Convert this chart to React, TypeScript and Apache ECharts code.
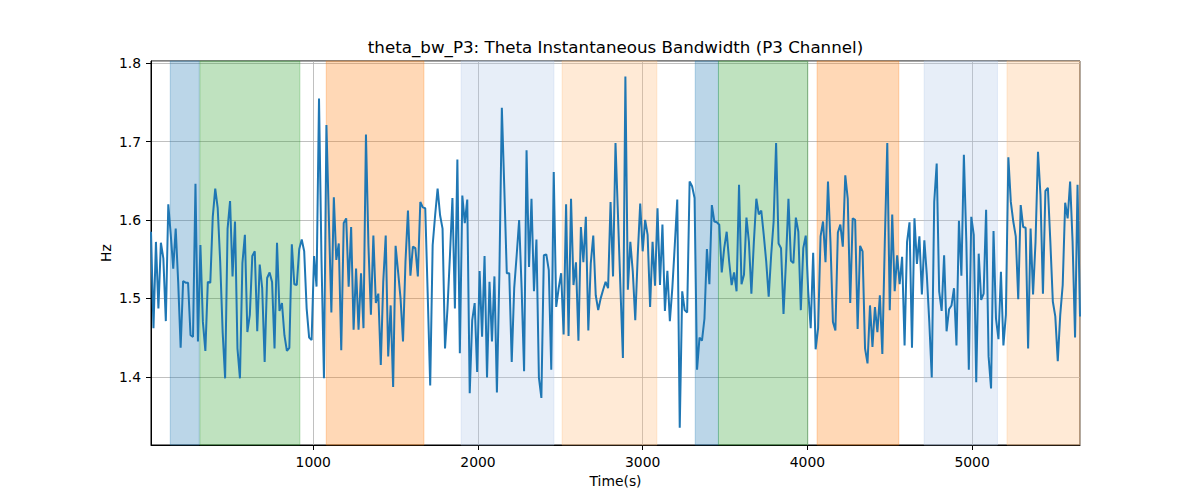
import { useEffect, useRef } from "react";
import * as echarts from "echarts";

// sampling of the signal (seconds)
const startTime = 15;
const sampleStep = 15;

// theta bandwidth (Hz)
const bandwidth = [
    1.585, 1.462, 1.572, 1.487, 1.571, 1.551, 1.471, 1.620, 1.581, 1.538,
    1.589, 1.521, 1.437, 1.522, 1.520, 1.520, 1.453, 1.451, 1.646, 1.445,
    1.568, 1.470, 1.433, 1.521, 1.520, 1.604, 1.640, 1.615, 1.547, 1.457,
    1.398, 1.589, 1.624, 1.528, 1.598, 1.436, 1.398, 1.545, 1.581, 1.457,
    1.479, 1.554, 1.560, 1.458, 1.543, 1.513, 1.419, 1.526, 1.533, 1.521,
    1.436, 1.571, 1.484, 1.494, 1.453, 1.433, 1.437, 1.569, 1.518, 1.517,
    1.563, 1.575, 1.560, 1.487, 1.450, 1.447, 1.554, 1.515, 1.755, 1.550,
    1.398, 1.721, 1.600, 1.482, 1.629, 1.549, 1.570, 1.434, 1.596, 1.602,
    1.515, 1.591, 1.460, 1.538, 1.460, 1.532, 1.462, 1.709, 1.568, 1.479,
    1.580, 1.494, 1.506, 1.415, 1.521, 1.580, 1.426, 1.491,
    1.387, 1.567, 1.534, 1.500, 1.445, 1.547, 1.612, 1.529, 1.566, 1.564,
    1.528, 1.623, 1.616, 1.615, 1.504, 1.389, 1.568, 1.606, 1.640, 1.606,
    1.589, 1.436, 1.487, 1.555, 1.628, 1.487, 1.677, 1.430, 1.631, 1.596,
    1.626, 1.379, 1.472, 1.494, 1.406, 1.535, 1.451, 1.554, 1.399, 1.521,
    1.445, 1.528, 1.380, 1.530, 1.743, 1.640, 1.532, 1.532,
    1.419, 1.513, 1.555, 1.600, 1.513, 1.407, 1.689, 1.540, 1.627, 1.509,
    1.575, 1.399, 1.373, 1.555, 1.556, 1.536, 1.409, 1.661, 1.489, 1.513,
    1.532, 1.454, 1.620, 1.452, 1.627, 1.517, 1.546, 1.446, 1.591, 1.546,
    1.604, 1.459, 1.545, 1.580, 1.504, 1.485, 1.500, 1.511, 1.521, 1.513,
    1.623, 1.528, 1.698, 1.606, 1.513, 1.424, 1.783, 1.511, 1.572,
    1.534, 1.472, 1.555, 1.621, 1.560, 1.600, 1.581, 1.489, 1.572, 1.516,
    1.615, 1.517, 1.594, 1.484, 1.535, 1.471, 1.513, 1.568, 1.626, 1.335,
    1.509, 1.485, 1.482, 1.649, 1.643, 1.628, 1.409, 1.450, 1.446, 1.474,
    1.563, 1.518, 1.619, 1.598, 1.597, 1.594, 1.533, 1.564, 1.585, 1.547,
    1.517, 1.533, 1.509, 1.645, 1.518, 1.530,
    1.603, 1.572, 1.506, 1.572, 1.627, 1.607, 1.612, 1.581, 1.547, 1.502,
    1.555, 1.598, 1.698, 1.570, 1.564, 1.480, 1.547, 1.627, 1.548, 1.545,
    1.603, 1.585, 1.485, 1.564, 1.580, 1.509, 1.462, 1.558, 1.435, 1.462,
    1.579, 1.598, 1.546, 1.649, 1.572, 1.470, 1.459, 1.584, 1.594, 1.566,
    1.657, 1.627, 1.494, 1.602, 1.600, 1.461, 1.567,
    1.560, 1.436, 1.417, 1.491, 1.438, 1.489, 1.457, 1.504, 1.429, 1.572,
    1.698, 1.485, 1.607, 1.509, 1.555, 1.518, 1.553, 1.440, 1.572, 1.597,
    1.437, 1.602, 1.544, 1.579, 1.505, 1.574, 1.530, 1.470, 1.399, 1.623,
    1.672, 1.509, 1.484, 1.555, 1.458, 1.486, 1.491, 1.513, 1.440, 1.599,
    1.529, 1.683, 1.572, 1.409, 1.604, 1.581,
    1.393, 1.557, 1.498, 1.506, 1.613, 1.426, 1.385, 1.586, 1.474, 1.448,
    1.534, 1.440, 1.479, 1.680, 1.623, 1.598, 1.579, 1.499, 1.619, 1.591,
    1.590, 1.436, 1.589, 1.505, 1.572, 1.687, 1.632, 1.506, 1.637, 1.641,
    1.572, 1.496, 1.477, 1.420, 1.479, 1.517, 1.622, 1.602, 1.649, 1.572,
    1.450, 1.645, 1.477,
];

// shaded phases (seconds)
const spanStarts = [132, 312, 1079, 1898, 2511, 3319, 3460, 4059, 4709, 5212];
const spanEnds = [308, 919, 1672, 2461, 3086, 3460, 4003, 4555, 5154, 5700];
const spanKinds = ["blue", "green", "orange", "lightblue", "lightorange", "blue", "green", "orange", "lightblue", "lightorange"];

const spanColors: Record<string, string> = {
    blue: "rgba(31,119,180,0.3)",
    green: "rgba(44,160,44,0.3)",
    orange: "rgba(255,127,14,0.3)",
    lightblue: "rgba(174,199,232,0.3)",
    lightorange: "rgba(255,187,120,0.3)",
};

const yMin = 1.313;
const yMax = 1.8027;

const FONT = "DejaVu Sans";

export default function App() {
    const chartRef = useRef<HTMLDivElement | null>(null);

    useEffect(() => {
        document.body.style.margin = "0";
        if (!chartRef.current) return;
        const chart = echarts.init(chartRef.current, undefined, { renderer: "svg" });

        const points = bandwidth.map((v, i) => [startTime + i * sampleStep, v]);
        const lastTime = startTime + (bandwidth.length - 1) * sampleStep;

        const areas = spanStarts.map((s, i) => [
            {
                xAxis: s,
                itemStyle: {
                    color: spanColors[spanKinds[i]],
                    borderColor: spanColors[spanKinds[i]],
                    borderWidth: 1,
                },
            },
            { xAxis: Math.min(spanEnds[i], lastTime) },
        ]);

        const option: any = {
            animation: false,
            textStyle: { fontFamily: FONT },
            grid: {
                left: 151,
                right: 120,
                top: 61,
                bottom: 55,
                show: true,
                borderColor: "#000",
                borderWidth: 1,
                backgroundColor: "transparent",
            },
            graphic: [
                {
                    type: "text",
                    x: 615.5,
                    y: 46.5,
                    style: {
                        text: "theta_bw_P3: Theta Instantaneous Bandwidth (P3 Channel)",
                        fontFamily: FONT,
                        fontSize: 16.7,
                        fill: "#000",
                        align: "center",
                        verticalAlign: "middle",
                    },
                },
                {
                    type: "text",
                    x: 615.5,
                    y: 481,
                    style: {
                        text: "Time(s)",
                        fontFamily: FONT,
                        fontSize: 13.9,
                        fill: "#000",
                        align: "center",
                        verticalAlign: "middle",
                    },
                },
                {
                    type: "text",
                    x: 106,
                    y: 253,
                    rotation: Math.PI / 2,
                    style: {
                        text: "Hz",
                        fontFamily: FONT,
                        fontSize: 13.9,
                        fill: "#000",
                        align: "center",
                        verticalAlign: "middle",
                    },
                },
            ],
            xAxis: {
                type: "value",
                min: startTime,
                max: lastTime,
                splitNumber: 5,
                axisLine: { show: true, lineStyle: { color: "#000", width: 1 } },
                axisTick: { show: true, length: 5, lineStyle: { color: "#000", width: 1 } },
                axisLabel: {
                    margin: 10,
                    color: "#000",
                    fontSize: 13.9,
                    fontFamily: FONT,
                    showMinLabel: false,
                    showMaxLabel: false,
                    formatter: (v: number) => String(v),
                },
                splitLine: { show: true, lineStyle: { color: "#b0b0b0", width: 0.8 } },
            },
            yAxis: {
                type: "value",
                min: yMin,
                max: yMax,
                splitNumber: 5,
                axisLine: { show: true, lineStyle: { color: "#000", width: 1 } },
                axisTick: { show: true, length: 5, lineStyle: { color: "#000", width: 1 } },
                axisLabel: {
                    margin: 10,
                    color: "#000",
                    fontSize: 13.9,
                    fontFamily: FONT,
                    showMinLabel: false,
                    showMaxLabel: false,
                    formatter: (v: number) => v.toFixed(1),
                },
                splitLine: { show: true, lineStyle: { color: "#b0b0b0", width: 0.8 } },
            },
            series: [
                {
                    name: "theta_bw_P3",
                    type: "line",
                    data: points,
                    showSymbol: false,
                    symbol: "none",
                    lineStyle: { color: "#1f77b4", width: 2 },
                    z: 3,
                    markArea: {
                        silent: true,
                        data: areas,
                    },
                },
            ],
        };

        chart.setOption(option);

        return () => {
            chart.dispose();
        };
    }, []);

    return <div ref={chartRef} style={{ width: "1200px", height: "500px" }} />;
}
